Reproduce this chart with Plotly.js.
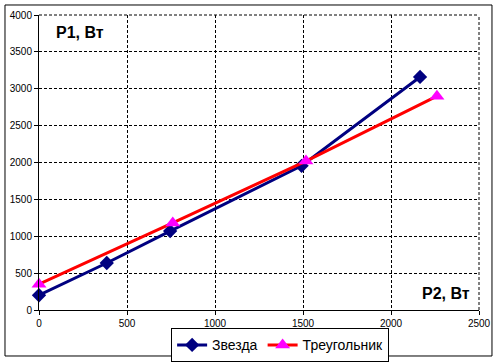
<!DOCTYPE html>
<html><head><meta charset="utf-8">
<script src="https://cdn.plot.ly/plotly-3.0.1.min.js"></script>
<style>body{margin:0;background:#fff}#c{width:499px;height:362px}</style>
</head><body><div id="c"></div>
<script>
const starX = [0, 385, 745, 1492, 2165];
const starY = [200, 637, 1070, 1955, 3160];
const triX = [0, 760, 1517, 2261];
const triY = [350, 1180, 2020, 2900];
const starName = 'Звезда';
const triName = 'Треугольник';
const xTicks = [0, 500, 1000, 1500, 2000, 2500];
const yTicks = [0, 500, 1000, 1500, 2000, 2500, 3000, 3500, 4000];

const traces = [
  {x: starX, y: starY, name: starName, type: 'scatter', mode: 'lines+markers', cliponaxis: false,
   line: {color: '#000080', width: 3}, marker: {symbol: 'diamond', size: 11, color: '#000080'}},
  {x: triX, y: triY, name: triName, type: 'scatter', mode: 'lines+markers', cliponaxis: false,
   line: {color: '#FF0000', width: 3}, marker: {symbol: 'triangle-up', size: 13, color: '#FF00FF'}}
];
const dash = '3px,2px';
const layout = {
  width: 499, height: 362,
  margin: {l: 39, r: 20, t: 15, b: 52, autoexpand: false},
  paper_bgcolor: '#fff', plot_bgcolor: '#fff',
  font: {family: 'Arial, Liberation Sans, sans-serif', size: 10, color: '#000'},
  showlegend: true,
  legend: {orientation: 'h', x: 0.548, xanchor: 'center', y: -0.062, yanchor: 'top',
    bordercolor: '#000', borderwidth: 1, font: {size: 14}, bgcolor: '#fff', tracegroupgap: 0},
  xaxis: {range: [0, 2500], tickvals: xTicks, showgrid: true, gridcolor: '#000', griddash: dash, gridwidth: 1,
    showline: true, linecolor: '#000', linewidth: 1, zeroline: false, ticks: 'outside', ticklen: 4, tickcolor: '#000',
    fixedrange: true},
  yaxis: {range: [0, 4000], tickvals: yTicks, showgrid: true, gridcolor: '#000', griddash: dash, gridwidth: 1,
    showline: true, linecolor: '#000', linewidth: 1, zeroline: false, ticks: 'outside', ticklen: 4, tickcolor: '#000',
    fixedrange: true},
  annotations: [
    {text: '<b>P1, Вт</b>', xref: 'paper', yref: 'paper', x: 0.035, y: 0.94, xanchor: 'left', yanchor: 'middle',
     showarrow: false, font: {size: 16}},
    {text: '<b>P2, Вт</b>', xref: 'paper', yref: 'paper', x: 0.985, y: 0.055, xanchor: 'right', yanchor: 'middle',
     showarrow: false, font: {size: 16}}
  ],
  shapes: [
    {type: 'rect', xref: 'paper', yref: 'paper', x0: -0.0773, x1: 1.0295, y0: -0.1559, y1: 1.0339,
     line: {color: '#000', width: 1}, fillcolor: 'rgba(0,0,0,0)', layer: 'below'},
    {type: 'line', xref: 'paper', yref: 'paper', x0: 0, x1: 1, y0: 1, y1: 1,
     line: {color: '#000', width: 1, dash: dash}, layer: 'below'},
    {type: 'line', xref: 'paper', yref: 'paper', x0: 1, x1: 1, y0: 0, y1: 1,
     line: {color: '#000', width: 1, dash: dash}, layer: 'below'}
  ]
};
Plotly.newPlot('c', traces, layout, {displayModeBar: false, staticPlot: true});
</script></body></html>
